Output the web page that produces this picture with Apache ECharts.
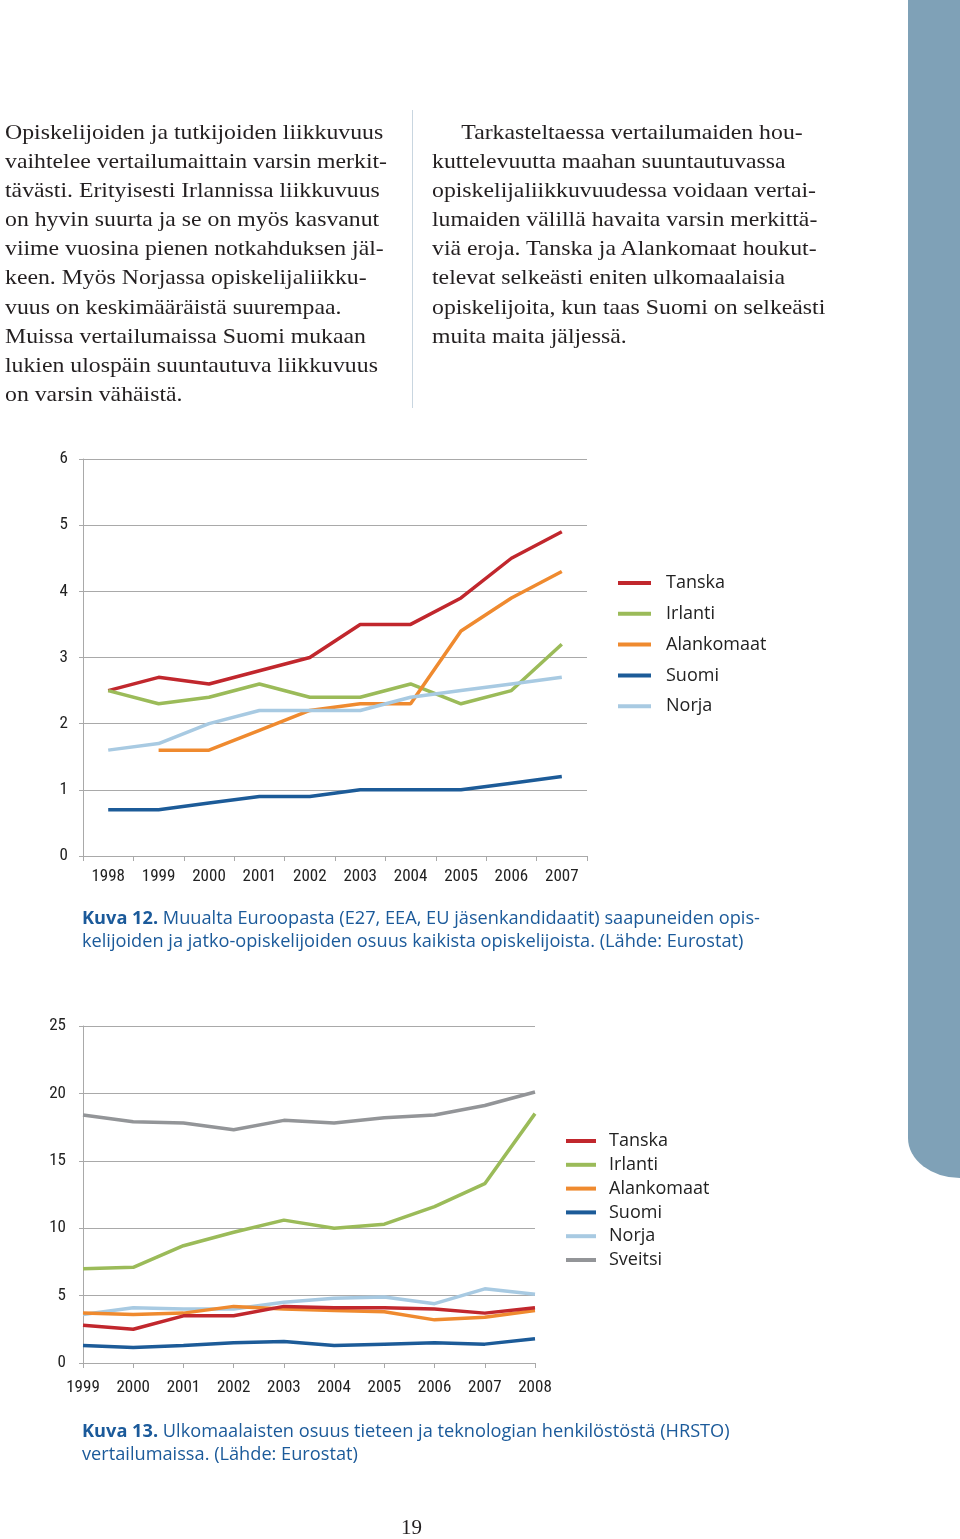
<!DOCTYPE html>
<html><head><meta charset="utf-8">
<script src="https://cdn.jsdelivr.net/npm/echarts@6/dist/echarts.min.js"></script>
<style>
html,body{margin:0;padding:0;background:#fff;}
#page{position:relative;width:960px;height:1539px;overflow:hidden;background:#fff;}
#chart{position:absolute;left:0;top:0;width:960px;height:1539px;}
.band{position:absolute;left:908px;top:0;width:52px;height:1178px;background:#7fa1b7;border-bottom-left-radius:52px 40px;}
.para{position:absolute;font-family:"Liberation Serif","DejaVu Serif",serif;font-size:22px;line-height:29.1px;color:#231f20;white-space:pre;transform:scaleX(1.08);transform-origin:0 0;}
.sep{position:absolute;left:412px;top:110px;width:1px;height:298px;background:#c9d6e0;}
.cap{position:absolute;left:82px;font-family:"Open Sans","Liberation Sans",sans-serif;font-size:18.2px;line-height:22.5px;color:#1b5a9a;white-space:pre;}
.cap b{font-weight:700;}
.pnum{position:absolute;left:401px;top:1515px;font-family:"Liberation Serif",serif;font-size:21px;color:#231f20;}
</style></head>
<body><div id="page">
<div class="band"></div>
<div id="chart"></div>
<div class="para" style="left:5px;top:117px;">Opiskelijoiden ja tutkijoiden liikkuvuus
vaihtelee vertailumaittain varsin merkit-
tävästi. Erityisesti Irlannissa liikkuvuus
on hyvin suurta ja se on myös kasvanut
viime vuosina pienen notkahduksen jäl-
keen. Myös Norjassa opiskelijaliikku-
vuus on keskimääräistä suurempaa.
Muissa vertailumaissa Suomi mukaan
lukien ulospäin suuntautuva liikkuvuus
on varsin vähäistä.</div>
<div class="sep"></div>
<div class="para" style="left:432px;top:117px;">     Tarkasteltaessa vertailumaiden hou-
kuttelevuutta maahan suuntautuvassa
opiskelijaliikkuvuudessa voidaan vertai-
lumaiden välillä havaita varsin merkittä-
viä eroja. Tanska ja Alankomaat houkut-
televat selkeästi eniten ulkomaalaisia
opiskelijoita, kun taas Suomi on selkeästi
muita maita jäljessä.</div>
<div class="cap" style="top:906px;"><b>Kuva 12.</b> Muualta Euroopasta (E27, EEA, EU jäsenkandidaatit) saapuneiden opis-
kelijoiden ja jatko-opiskelijoiden osuus kaikista opiskelijoista. (Lähde: Eurostat)</div>
<div class="cap" style="top:1419px;"><b>Kuva 13.</b> Ulkomaalaisten osuus tieteen ja teknologian henkilöstöstä (HRSTO)
vertailumaissa. (Lähde: Eurostat)</div>
<div class="pnum">19</div>
</div>
<script>
// Chart 1 (Kuva 12)
const years1 = ['1998','1999','2000','2001','2002','2003','2004','2005','2006','2007'];
const tanska1 = [2.5, 2.7, 2.6, 2.8, 3.0, 3.5, 3.5, 3.9, 4.5, 4.9];
const irlanti1 = [2.5, 2.3, 2.4, 2.6, 2.4, 2.4, 2.6, 2.3, 2.5, 3.2];
const alankomaat1 = [null, 1.6, 1.6, 1.9, 2.2, 2.3, 2.3, 3.4, 3.9, 4.3];
const suomi1 = [0.7, 0.7, 0.8, 0.9, 0.9, 1.0, 1.0, 1.0, 1.1, 1.2];
const norja1 = [1.6, 1.7, 2.0, 2.2, 2.2, 2.2, 2.4, 2.5, 2.6, 2.7];

// Chart 2 (Kuva 13)
const years2 = ['1999','2000','2001','2002','2003','2004','2005','2006','2007','2008'];
const tanska2 = [2.8, 2.5, 3.5, 3.5, 4.2, 4.1, 4.1, 4.0, 3.7, 4.1];
const irlanti2 = [7.0, 7.1, 8.7, 9.7, 10.6, 10.0, 10.3, 11.6, 13.3, 18.5];
const alankomaat2 = [3.7, 3.6, 3.7, 4.2, 4.0, 3.9, 3.8, 3.2, 3.4, 3.9];
const suomi2 = [1.3, 1.15, 1.3, 1.5, 1.6, 1.3, 1.4, 1.5, 1.4, 1.8];
const norja2 = [3.6, 4.1, 4.0, 4.0, 4.5, 4.8, 4.9, 4.4, 5.5, 5.1];
const sveitsi2 = [18.4, 17.9, 17.8, 17.3, 18.0, 17.8, 18.2, 18.4, 19.1, 20.1];

const legend1 = ['Tanska','Irlanti','Alankomaat','Suomi','Norja'];
const legend2 = ['Tanska','Irlanti','Alankomaat','Suomi','Norja','Sveitsi'];

const colors = {Tanska:'#c1272d', Irlanti:'#9bbb59', Alankomaat:'#ef8a2f', Suomi:'#1c5b98', Norja:'#a8cae2', Sveitsi:'#939598'};
const axFont = "'Liberation Sans Narrow','Roboto Condensed','Liberation Sans',sans-serif";
const lgFont = "'Open Sans','Liberation Sans',sans-serif";
const gridCol = '#a9a9a9';

function line(name, data, idx){
  return {type:'line', name, data, xAxisIndex:idx, yAxisIndex:idx, symbol:'none',
    lineStyle:{width:3.5, color:colors[name]}, itemStyle:{color:colors[name]},
    connectNulls:false, animation:false, z: name==='Suomi'?5:3};
}

const chart = echarts.init(document.getElementById('chart'), null, {renderer:'canvas'});
chart.setOption({
  animation:false,
  backgroundColor:'transparent',
  grid:[
    {left:83, top:459, width:504, height:397, containLabel:false},
    {left:83, top:1026, width:452, height:337, containLabel:false}
  ],
  xAxis:[
    {type:'category', gridIndex:0, data:years1, boundaryGap:true,
     axisLine:{lineStyle:{color:gridCol,width:1}},
     axisTick:{show:true, length:5, lineStyle:{color:gridCol}},
     axisLabel:{color:'#222', fontFamily:axFont, fontSize:17, margin:12, interval:0}},
    {type:'category', gridIndex:1, data:years2, boundaryGap:false,
     axisLine:{lineStyle:{color:gridCol,width:1}},
     axisTick:{show:true, length:5, interval:0, lineStyle:{color:gridCol}},
     axisLabel:{color:'#222', fontFamily:axFont, fontSize:17, margin:16, interval:0}}
  ],
  yAxis:[
    {type:'value', gridIndex:0, min:0, max:6, interval:1,
     axisLine:{show:true, lineStyle:{color:gridCol,width:1}},
     axisTick:{show:true, length:4, lineStyle:{color:gridCol}},
     splitLine:{lineStyle:{color:gridCol,width:1}},
     axisLabel:{color:'#222', fontFamily:axFont, fontSize:17, margin:15}},
    {type:'value', gridIndex:1, min:0, max:25, interval:5,
     axisLine:{show:true, lineStyle:{color:gridCol,width:1}},
     axisTick:{show:true, length:4, lineStyle:{color:gridCol}},
     splitLine:{lineStyle:{color:gridCol,width:1}},
     axisLabel:{color:'#222', fontFamily:axFont, fontSize:17, margin:17}}
  ],
  legend:[
    {data:legend1, orient:'vertical', left:613, top:568, icon:'rect', itemWidth:33, itemHeight:4,
     itemGap:10.8, selectedMode:false,
     textStyle:{fontFamily:lgFont, fontSize:18, color:'#222', lineHeight:20, padding:[0,0,0,10]}},
    {data:legend2, orient:'vertical', left:561, top:1126, icon:'rect', itemWidth:30, itemHeight:4,
     itemGap:3.8, selectedMode:false,
     textStyle:{fontFamily:lgFont, fontSize:18, color:'#222', lineHeight:20, padding:[0,0,0,8]}}
  ],
  series:[
    line('Tanska', tanska1, 0), line('Irlanti', irlanti1, 0), line('Alankomaat', alankomaat1, 0),
    line('Suomi', suomi1, 0), line('Norja', norja1, 0),
    line('Sveitsi', sveitsi2, 1), line('Irlanti', irlanti2, 1), line('Norja', norja2, 1),
    line('Alankomaat', alankomaat2, 1), line('Tanska', tanska2, 1), line('Suomi', suomi2, 1)
  ]
});
</script>
</body></html>
